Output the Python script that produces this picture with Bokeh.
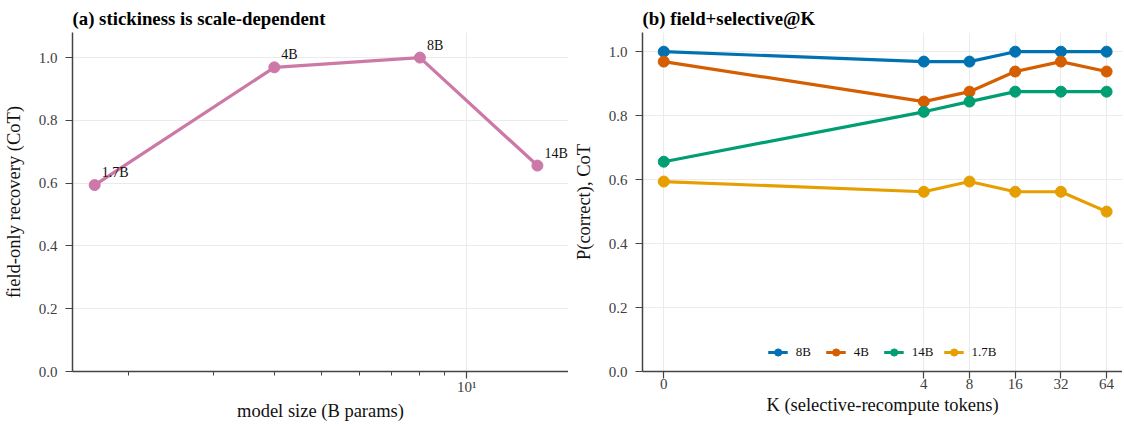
import numpy as np
from bokeh.plotting import figure
from bokeh.layouts import row
from bokeh.models import (ColumnDataSource, FixedTicker, LabelSet, Legend,
                          LegendItem, PrintfTickFormatter, Range1d)
from bokeh.core.properties import value
from bokeh.embed import file_html
from bokeh.resources import INLINE

# ---------------- data ----------------
# panel (a): field-only recovery vs model size
model_sizes = [1.7, 4, 8, 14]
model_labels = ["1.7B", "4B", "8B", "14B"]
field_only_recovery = [0.594, 0.969, 1.0, 0.656]

# panel (b): P(correct) vs K
K_values = [0, 4, 8, 16, 32, 64]
K_tick_labels = ["0", "4", "8", "16", "32", "64"]
series_names = ["8B", "4B", "14B", "1.7B"]
p_8b = [1.0, 0.969, 0.969, 1.0, 1.0, 1.0]
p_4b = [0.969, 0.844, 0.875, 0.938, 0.969, 0.938]
p_14b = [0.656, 0.812, 0.844, 0.875, 0.875, 0.875]
p_17b = [0.594, 0.562, 0.594, 0.562, 0.562, 0.500]
y_ticks = [0.0, 0.2, 0.4, 0.6, 0.8, 1.0]

SERIF = "Liberation Serif"
AX = "#444444"
GRID = "#ebebeb"
PINK = "#CC79A7"
COLORS = ["#0072B2", "#D55E00", "#009E73", "#E69F00"]


def symlog(k):
    k = np.asarray(k, dtype=float)
    lin = 1.0 / (1.0 - 1.0 / 10.0)
    return np.where(k > 1, lin + np.log10(np.maximum(k, 1.0)), k * lin)


def style(p):
    p.outline_line_color = None
    p.background_fill_color = "white"
    p.border_fill_color = "white"
    for ax in (p.xaxis[0], p.yaxis[0]):
        ax.axis_line_color = AX
        ax.axis_line_width = 1.5
        ax.major_tick_line_color = AX
        ax.major_tick_line_width = 1.2
        ax.minor_tick_line_color = AX
        ax.minor_tick_line_width = 1.0
        ax.major_tick_in = 0
        ax.major_tick_out = 7
        ax.minor_tick_in = 0
        ax.minor_tick_out = 4
        ax.major_label_text_font = SERIF
        ax.major_label_text_font_size = "15px"
        ax.major_label_text_color = "#404040"
        ax.axis_label_text_font = SERIF
        ax.axis_label_text_font_size = "18.5px"
        ax.axis_label_text_font_style = "normal"
        ax.axis_label_text_color = "#111111"
    p.xaxis[0].major_label_standoff = 0
    p.yaxis[0].major_label_standoff = 8
    p.xgrid.grid_line_color = GRID
    p.ygrid.grid_line_color = GRID
    p.yaxis[0].ticker = FixedTicker(ticks=y_ticks)
    p.yaxis[0].formatter = PrintfTickFormatter(format="%.1f")
    p.yaxis[0].axis_label_standoff = 12
    p.xaxis[0].axis_label_standoff = 3
    p.title.text_font = SERIF
    p.title.text_font_size = "18.8px"
    p.title.text_font_style = "bold"
    p.title.text_color = "#000000"
    p.title.align = "left"
    p.title.offset = 0
    p.title.standoff = 7


H = 425
TOP = 32
BOTTOM = 54

# ---------------- panel (a) ----------------
pa = figure(width=568, height=H, x_axis_type="log",
            x_range=Range1d(10 ** 0.1846, 10 ** 1.2104), y_range=Range1d(0, 1.08),
            output_backend="svg", toolbar_location=None,
            min_border_left=71, min_border_right=0, min_border_top=TOP,
            min_border_bottom=BOTTOM,
            title="(a) stickiness is scale-dependent")
style(pa)
pa.xaxis[0].ticker = FixedTicker(ticks=[10], minor_ticks=[2, 3, 4, 5, 6, 7, 8, 9])
pa.xaxis[0].major_label_overrides = {10: "10\u00b9"}
pa.xaxis.axis_label = "model size (B params)"
pa.yaxis.axis_label = "field-only recovery (CoT)"

pa.line(model_sizes, field_only_recovery, line_width=3.3, color=PINK)
pa.scatter(model_sizes, field_only_recovery, size=11, color=PINK)
lab_src = ColumnDataSource(dict(x=model_sizes, y=field_only_recovery, t=model_labels))
pa.add_layout(LabelSet(x="x", y="y", text="t", source=lab_src, x_offset=7, y_offset=8,
                       text_font=value(SERIF), text_font_size="14px",
                       text_color="#111111", text_baseline="alphabetic"))

# ---------------- panel (b) ----------------
Kt = symlog(K_values)
pb = figure(width=554, height=H, x_range=Range1d(-0.140, 3.022), y_range=Range1d(0, 1.06),
            output_backend="svg", toolbar_location=None,
            min_border_left=74, min_border_right=0, min_border_top=TOP,
            min_border_bottom=BOTTOM,
            title="(b) field+selective@K")
style(pb)
pb.xaxis[0].ticker = FixedTicker(ticks=[float(t) for t in Kt], minor_ticks=[])
pb.xaxis[0].major_label_overrides = {float(t): s for t, s in zip(Kt, K_tick_labels)}
pb.xaxis.axis_label = "K (selective-recompute tokens)"
pb.yaxis.axis_label = "P(correct), CoT"

items = []
for name, vals, col in zip(series_names, [p_8b, p_4b, p_14b, p_17b], COLORS):
    r1 = pb.line(Kt, vals, line_width=3.2, color=col)
    r2 = pb.scatter(Kt, vals, size=11, color=col)
    items.append(LegendItem(label=name, renderers=[r1, r2]))

legend = Legend(items=items, orientation="horizontal", location="bottom_center",
                border_line_color=None, background_fill_alpha=0.0,
                glyph_width=20, glyph_height=18, label_standoff=8, spacing=10,
                padding=0, margin=10,
                label_text_font=SERIF, label_text_font_size="13px",
                label_text_color="#111111")
pb.add_layout(legend, "center")

layout = row(pa, pb)
open("out.html", "w").write(file_html(layout, INLINE))
